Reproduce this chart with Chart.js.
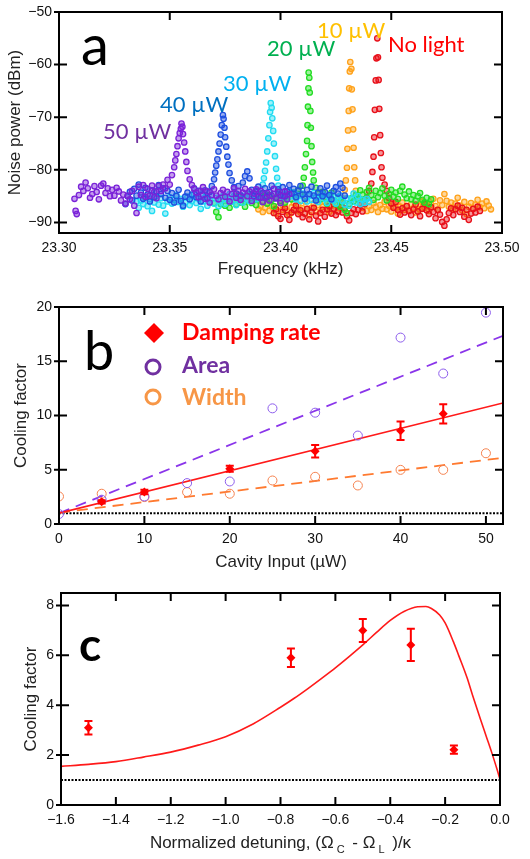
<!DOCTYPE html>
<html>
<head>
<meta charset="utf-8">
<script src="https://cdn.jsdelivr.net/npm/chart.js@4.4.1/dist/chart.umd.min.js"></script>
<style>
  body { margin: 0; background: #fff; width: 530px; height: 859px; position: relative; overflow: hidden; }
  canvas { position: absolute; left: 0; }
</style>
</head>
<body>
<canvas id="chartA" width="530" height="285" style="top:0"></canvas>
<canvas id="chartB" width="530" height="290" style="top:290px"></canvas>
<canvas id="chartC" width="530" height="274" style="top:585px"></canvas>
<script>
// ---- panel a : noise spectra, [frequency kHz, dBm]
const spec50 = [[23.307,-85.5],[23.3075,-87.8],[23.308,-88.4],[23.309,-84.8],[23.310,-83.2],[23.311,-84.0],[23.312,-82.4],[23.313,-83.5],[23.314,-85.3],[23.315,-84.6],[23.316,-83.1],[23.317,-84.2],[23.318,-85.6],[23.319,-83.0],[23.320,-82.6],[23.321,-84.4],[23.322,-83.5],[23.323,-85.0],[23.324,-83.8],[23.325,-84.9],[23.326,-83.4],[23.327,-84.1],[23.328,-85.8],[23.329,-84.7],[23.330,-86.4],[23.331,-84.9],[23.332,-85.6],[23.333,-84.0],[23.334,-86.8],[23.335,-88.2],[23.336,-83.2],[23.337,-84.8],[23.338,-82.9],[23.339,-85.1],[23.340,-83.6],[23.341,-84.9],[23.342,-83.0],[23.343,-84.2],[23.344,-85.4],[23.345,-83.1],[23.346,-84.0],[23.347,-82.8],[23.348,-83.5],[23.349,-81.9],[23.350,-82.8],[23.351,-81.0],[23.352,-79.5],[23.3525,-78.2],[23.353,-77.0],[23.3535,-75.5],[23.354,-74.0],[23.3545,-73.0],[23.355,-72.2],[23.3553,-71.2],[23.3557,-71.8],[23.356,-73.2],[23.3565,-74.8],[23.357,-76.5],[23.3575,-78.5],[23.358,-80.2],[23.359,-81.8],[23.360,-82.9],[23.361,-83.6],[23.362,-84.3],[23.363,-85.2],[23.364,-84.0],[23.365,-83.3],[23.366,-85.5],[23.367,-84.1],[23.368,-86.2],[23.369,-84.8],[23.370,-83.7],[23.371,-84.9],[23.372,-85.6],[23.373,-84.4],[23.374,-83.8],[23.375,-85.1],[23.376,-84.2],[23.377,-86.0],[23.378,-84.6],[23.379,-83.5],[23.380,-85.3],[23.381,-84.0],[23.382,-85.7],[23.383,-84.3],[23.384,-83.6],[23.385,-85.0],[23.386,-84.1],[23.387,-85.9],[23.388,-84.5],[23.389,-83.7],[23.390,-85.2],[23.391,-84.0],[23.392,-86.1],[23.393,-85.3],[23.394,-84.4],[23.395,-85.8],[23.396,-84.9],[23.397,-83.6],[23.398,-85.4],[23.399,-84.2],[23.400,-86.3],[23.401,-85.0],[23.402,-84.1],[23.403,-85.6],[23.404,-84.6]];
const spec40 = [[23.330,-86.5],[23.331,-85.0],[23.332,-84.2],[23.333,-85.8],[23.334,-83.6],[23.335,-84.9],[23.336,-82.8],[23.337,-84.3],[23.338,-85.5],[23.339,-83.4],[23.340,-84.7],[23.341,-86.0],[23.342,-83.9],[23.343,-85.2],[23.344,-84.1],[23.345,-82.9],[23.346,-84.6],[23.347,-83.5],[23.348,-85.3],[23.349,-84.0],[23.350,-85.7],[23.351,-84.4],[23.352,-86.2],[23.353,-85.0],[23.354,-83.8],[23.355,-85.9],[23.356,-86.8],[23.357,-85.1],[23.358,-84.3],[23.359,-85.6],[23.360,-84.7],[23.361,-83.5],[23.362,-85.2],[23.363,-84.0],[23.364,-86.0],[23.365,-84.8],[23.366,-83.9],[23.367,-85.4],[23.368,-84.2],[23.369,-83.1],[23.370,-81.8],[23.3705,-80.5],[23.371,-79.2],[23.3715,-78.0],[23.372,-76.5],[23.3725,-75.0],[23.373,-73.3],[23.3735,-71.5],[23.374,-69.6],[23.3743,-70.3],[23.3747,-72.0],[23.375,-73.8],[23.3755,-75.6],[23.376,-77.5],[23.3765,-79.0],[23.377,-80.6],[23.378,-82.0],[23.379,-83.3],[23.380,-84.5],[23.381,-83.1],[23.382,-84.9],[23.383,-82.4],[23.384,-81.2],[23.385,-80.3],[23.386,-81.6],[23.387,-83.8],[23.388,-85.0],[23.389,-84.1],[23.390,-83.2],[23.391,-85.3],[23.392,-84.4],[23.393,-83.5],[23.394,-85.1],[23.395,-84.2],[23.396,-83.0],[23.397,-84.6],[23.398,-85.4],[23.399,-83.7],[23.400,-84.8],[23.401,-83.3],[23.402,-85.0],[23.403,-84.1],[23.404,-82.9],[23.405,-84.5],[23.406,-83.6],[23.407,-85.2],[23.408,-84.0],[23.409,-83.1],[23.410,-84.7],[23.411,-85.5],[23.412,-83.8],[23.413,-84.6],[23.414,-83.2],[23.415,-84.9],[23.416,-85.8],[23.417,-84.3],[23.418,-83.5],[23.419,-85.0],[23.420,-84.2],[23.421,-83.0],[23.422,-84.8],[23.423,-85.6],[23.424,-84.0],[23.425,-83.3],[23.426,-84.5],[23.427,-82.6],[23.428,-83.4],[23.429,-84.9]];
const spec30 = [[23.335,-86.0],[23.336,-87.2],[23.337,-85.8],[23.338,-86.5],[23.339,-85.3],[23.340,-86.9],[23.341,-85.6],[23.342,-87.8],[23.343,-86.2],[23.344,-85.0],[23.345,-86.6],[23.346,-85.4],[23.347,-86.8],[23.348,-88.3],[23.349,-86.0],[23.350,-85.2],[23.351,-86.4],[23.352,-85.7],[23.353,-84.8],[23.354,-86.1],[23.355,-85.5],[23.356,-87.0],[23.357,-86.2],[23.358,-85.1],[23.359,-86.7],[23.360,-85.9],[23.361,-84.7],[23.362,-86.3],[23.363,-85.5],[23.364,-87.4],[23.365,-86.0],[23.366,-85.2],[23.367,-86.8],[23.368,-85.6],[23.369,-84.9],[23.370,-86.4],[23.371,-85.3],[23.372,-86.9],[23.373,-85.8],[23.374,-85.0],[23.375,-86.5],[23.376,-85.4],[23.377,-84.6],[23.378,-86.0],[23.379,-85.2],[23.380,-86.7],[23.381,-85.5],[23.382,-84.8],[23.383,-86.2],[23.384,-85.3],[23.385,-84.5],[23.386,-85.9],[23.387,-85.1],[23.388,-84.4],[23.389,-85.6],[23.390,-84.9],[23.391,-84.0],[23.392,-82.8],[23.3925,-81.6],[23.393,-80.2],[23.3935,-78.6],[23.394,-76.5],[23.3945,-74.0],[23.395,-71.5],[23.3953,-69.0],[23.3956,-67.3],[23.396,-68.2],[23.3963,-70.2],[23.3967,-72.6],[23.397,-75.0],[23.3975,-77.4],[23.398,-79.8],[23.3985,-81.5],[23.399,-83.0],[23.400,-84.3],[23.401,-85.2],[23.402,-84.6],[23.403,-85.5],[23.404,-84.1],[23.405,-85.0],[23.406,-84.3],[23.407,-85.6],[23.408,-84.8],[23.409,-85.9],[23.410,-84.5],[23.411,-85.3],[23.412,-86.0],[23.413,-84.9],[23.414,-85.7],[23.415,-84.4],[23.416,-85.2],[23.417,-86.1],[23.418,-85.0],[23.419,-84.6],[23.420,-85.5],[23.421,-86.3],[23.422,-85.1],[23.423,-84.7],[23.424,-85.8],[23.425,-86.4],[23.426,-85.2],[23.427,-84.9],[23.428,-85.9],[23.429,-86.6],[23.430,-85.4],[23.431,-86.8],[23.432,-85.6],[23.433,-84.5],[23.434,-86.2],[23.435,-85.0],[23.436,-86.5],[23.437,-85.7],[23.438,-86.3],[23.439,-85.5],[23.440,-86.1]];
const spec20 = [[23.370,-86.3],[23.371,-88.0],[23.372,-89.0],[23.373,-86.5],[23.374,-85.2],[23.375,-86.8],[23.376,-85.5],[23.377,-87.2],[23.378,-86.0],[23.379,-85.1],[23.380,-86.6],[23.381,-84.9],[23.382,-86.2],[23.383,-85.4],[23.384,-87.0],[23.385,-85.8],[23.386,-84.6],[23.387,-86.3],[23.388,-85.1],[23.389,-86.7],[23.390,-85.6],[23.391,-84.5],[23.392,-86.1],[23.393,-85.0],[23.394,-86.4],[23.395,-84.8],[23.396,-85.7],[23.397,-86.9],[23.398,-85.3],[23.399,-84.4],[23.400,-85.9],[23.401,-84.7],[23.402,-86.2],[23.403,-85.0],[23.404,-84.1],[23.405,-85.6],[23.406,-84.3],[23.407,-85.2],[23.408,-83.8],[23.409,-84.6],[23.410,-83.0],[23.4105,-81.5],[23.411,-79.5],[23.4115,-77.0],[23.412,-74.5],[23.4122,-71.5],[23.4124,-68.0],[23.4126,-64.5],[23.4127,-61.5],[23.413,-62.5],[23.4132,-65.3],[23.4135,-68.8],[23.4137,-72.0],[23.414,-75.5],[23.4143,-78.5],[23.4147,-80.5],[23.415,-82.0],[23.416,-83.4],[23.417,-84.5],[23.418,-85.6],[23.419,-84.2],[23.420,-85.3],[23.421,-86.4],[23.422,-85.0],[23.423,-84.3],[23.424,-85.8],[23.425,-86.5],[23.426,-85.2],[23.427,-87.0],[23.428,-86.1],[23.429,-87.6],[23.430,-88.2],[23.431,-86.5],[23.432,-85.4],[23.433,-86.0],[23.434,-84.8],[23.435,-85.5],[23.436,-83.9],[23.437,-84.7],[23.438,-85.6],[23.439,-84.2],[23.440,-83.4],[23.441,-84.8],[23.442,-85.7],[23.443,-84.0],[23.444,-85.2],[23.445,-84.4],[23.446,-83.5],[23.447,-84.9],[23.448,-85.8],[23.449,-84.6],[23.450,-83.8],[23.451,-85.1],[23.452,-84.3],[23.453,-85.5],[23.454,-84.0],[23.455,-83.2],[23.456,-84.7],[23.457,-85.4],[23.458,-84.1],[23.459,-85.6],[23.460,-84.8],[23.461,-85.9],[23.462,-85.0],[23.463,-84.4],[23.464,-85.7],[23.465,-86.2],[23.466,-85.3],[23.467,-86.5],[23.468,-85.6]];
const spec10 = [[23.390,-87.5],[23.391,-86.8],[23.392,-88.0],[23.393,-87.2],[23.394,-86.4],[23.395,-87.8],[23.396,-86.9],[23.397,-87.5],[23.398,-88.3],[23.399,-87.0],[23.400,-86.2],[23.401,-87.6],[23.402,-86.5],[23.403,-87.9],[23.404,-88.5],[23.405,-87.1],[23.406,-86.3],[23.407,-87.7],[23.408,-86.6],[23.409,-88.1],[23.410,-87.3],[23.411,-86.0],[23.412,-87.4],[23.413,-88.6],[23.414,-87.2],[23.415,-86.4],[23.416,-87.9],[23.417,-86.7],[23.418,-88.2],[23.419,-87.0],[23.420,-86.1],[23.421,-87.5],[23.422,-88.0],[23.423,-86.8],[23.424,-87.6],[23.425,-86.5],[23.426,-87.3],[23.427,-86.2],[23.428,-85.4],[23.429,-83.8],[23.4295,-82.0],[23.430,-79.6],[23.4302,-76.0],[23.4305,-72.5],[23.4308,-68.8],[23.431,-64.5],[23.4313,-61.3],[23.4315,-59.5],[23.432,-60.8],[23.4322,-64.7],[23.4325,-68.5],[23.4328,-72.3],[23.433,-75.8],[23.4333,-79.5],[23.4337,-82.0],[23.434,-84.0],[23.435,-85.6],[23.436,-86.4],[23.437,-87.2],[23.438,-86.5],[23.439,-87.8],[23.440,-86.9],[23.441,-87.6],[23.442,-86.3],[23.443,-87.1],[23.444,-88.0],[23.445,-86.7],[23.446,-87.4],[23.447,-86.1],[23.448,-87.5],[23.449,-86.8],[23.450,-87.9],[23.451,-86.4],[23.452,-87.2],[23.453,-88.3],[23.454,-87.0],[23.455,-86.2],[23.456,-87.6],[23.457,-86.9],[23.458,-87.7],[23.459,-86.5],[23.460,-87.3],[23.461,-88.1],[23.462,-86.8],[23.463,-87.5],[23.464,-86.0],[23.465,-87.2],[23.466,-86.4],[23.467,-87.8],[23.468,-86.6],[23.469,-85.5],[23.470,-86.9],[23.471,-87.6],[23.472,-85.8],[23.473,-86.7],[23.474,-84.6],[23.475,-85.9],[23.476,-87.0],[23.477,-86.2],[23.478,-87.5],[23.479,-86.4],[23.480,-85.3],[23.481,-86.8],[23.482,-87.7],[23.483,-86.1],[23.484,-88.4],[23.485,-87.0],[23.486,-86.3],[23.487,-87.4],[23.488,-86.6],[23.489,-85.7],[23.490,-87.1],[23.491,-86.4],[23.492,-87.3],[23.493,-86.0],[23.494,-86.8],[23.495,-87.5]];
const specDark = [[23.397,-88.2],[23.398,-87.5],[23.399,-88.8],[23.400,-89.3],[23.401,-88.0],[23.402,-87.3],[23.403,-88.6],[23.404,-89.5],[23.405,-88.1],[23.406,-87.6],[23.407,-86.8],[23.408,-88.4],[23.409,-87.7],[23.410,-89.0],[23.411,-88.3],[23.412,-87.4],[23.413,-89.4],[23.414,-88.0],[23.415,-87.2],[23.416,-88.7],[23.417,-89.8],[23.418,-88.2],[23.419,-87.6],[23.420,-88.9],[23.421,-87.5],[23.422,-86.9],[23.423,-88.3],[23.424,-87.4],[23.425,-88.6],[23.426,-87.9],[23.427,-86.8],[23.428,-88.1],[23.429,-87.3],[23.430,-88.8],[23.431,-89.6],[23.432,-88.2],[23.433,-87.5],[23.434,-88.4],[23.435,-87.6],[23.436,-86.7],[23.437,-87.9],[23.438,-86.5],[23.439,-85.4],[23.440,-84.0],[23.441,-82.6],[23.4415,-80.4],[23.442,-77.5],[23.4423,-73.8],[23.4426,-68.6],[23.443,-63.0],[23.4433,-58.8],[23.4437,-55.0],[23.444,-58.6],[23.4443,-62.9],[23.4446,-68.4],[23.445,-73.4],[23.4453,-76.8],[23.4456,-79.5],[23.446,-81.5],[23.447,-82.8],[23.448,-84.0],[23.449,-85.3],[23.450,-86.4],[23.451,-87.2],[23.452,-86.1],[23.453,-87.6],[23.454,-88.5],[23.455,-87.3],[23.456,-88.1],[23.457,-86.9],[23.458,-87.8],[23.459,-88.6],[23.460,-87.5],[23.461,-86.6],[23.462,-87.9],[23.463,-88.8],[23.464,-87.4],[23.465,-86.5],[23.466,-87.7],[23.467,-88.4],[23.468,-87.1],[23.469,-88.0],[23.470,-89.2],[23.471,-87.6],[23.472,-88.5],[23.473,-89.9],[23.474,-90.6],[23.475,-89.4],[23.476,-88.2],[23.477,-87.3],[23.478,-88.6],[23.479,-87.5],[23.480,-86.8],[23.481,-88.0],[23.482,-87.2],[23.483,-88.9],[23.484,-87.6],[23.485,-89.5],[23.486,-88.3],[23.487,-87.4],[23.488,-88.1],[23.489,-87.0],[23.490,-87.8]];

// ---- panel b : cooling factor vs cavity input
const inputPower = [0, 5, 10, 15, 20, 25, 30, 35, 40, 45, 50];
const areaFactor = [0.92, 2.24, 2.54, 3.77, 3.92, 10.66, 10.26, 8.15, 17.18, 13.87, 19.48];
const widthFactor = [2.54, 2.79, 2.48, 2.94, 2.79, 4.01, 4.35, 3.55, 4.99, 4.99, 6.52];
const dampPower = [5, 10, 20, 30, 40, 45];
const dampFactor = [2.05, 2.95, 5.1, 6.7, 8.6, 10.15];
const dampErr = [0.15, 0.2, 0.28, 0.57, 0.85, 0.88];
const fitPower = [0, 52];
const dampFit = [1.0, 11.15];
const areaFit = [1.0, 17.35];
const widthFit = [1.05, 6.1];

// ---- panel c : cooling factor vs detuning
const detuning = [-1.5, -0.762, -0.5, -0.325, -0.168];
const coolMeas = [3.1, 5.9, 7.0, 6.42, 2.22];
const coolErr = [0.27, 0.37, 0.46, 0.65, 0.17];
const theoryX = [-1.6,-1.5,-1.4,-1.3,-1.2,-1.1,-1.0,-0.9,-0.8,-0.75,-0.7,-0.65,-0.6,-0.55,-0.5,-0.45,-0.4,-0.35,-0.3,-0.27,-0.25,-0.22,-0.2,-0.17,-0.15,-0.12,-0.1,-0.07,-0.05,-0.03,-0.01,0];
const theoryY = [1.55,1.63,1.74,1.92,2.12,2.40,2.74,3.25,3.92,4.28,4.67,5.08,5.50,5.95,6.42,6.92,7.40,7.76,7.95,7.96,7.88,7.62,7.30,6.55,5.98,5.10,4.40,3.40,2.75,2.10,1.40,1.02];
const unityX = [-1.6, 0];

Chart.defaults.font.family = "'Liberation Sans', Arial, sans-serif";
Chart.defaults.color = '#111';
Chart.defaults.animation = false;

const minus = (v, d) => (v < -1e-9 ? '\u2212' : '') + Math.abs(v).toFixed(d);
const pts = (xs, ys) => xs.map((x, i) => ({x, y: ys[i]}));
const pairs = arr => arr.map(p => ({x: p[0], y: p[1]}));

// box frame with inner ticks on all four sides
const frameTicks = {
  id: 'frameTicks',
  afterDatasetsDraw(chart) {
    const {ctx, chartArea: a, scales: {x, y}} = chart;
    ctx.save();
    ctx.strokeStyle = '#000';
    ctx.lineWidth = 2;
    ctx.strokeRect(a.left, a.top, a.right - a.left, a.bottom - a.top);
    ctx.beginPath();
    x.ticks.forEach(t => {
      const px = x.getPixelForValue(t.value);
      ctx.moveTo(px, a.bottom); ctx.lineTo(px, a.bottom - 8);
      ctx.moveTo(px, a.top); ctx.lineTo(px, a.top + 8);
    });
    y.ticks.forEach(t => {
      const py = y.getPixelForValue(t.value);
      ctx.moveTo(a.left - 5, py); ctx.lineTo(a.left + 8, py);
      ctx.moveTo(a.right, py); ctx.lineTo(a.right - 8, py);
    });
    ctx.stroke();
    ctx.restore();
  }
};

const errorBars = {
  id: 'errorBars',
  afterDatasetsDraw(chart) {
    const {ctx, scales: {x, y}} = chart;
    chart.data.datasets.forEach(ds => {
      if (!ds.errors) return;
      ctx.save();
      ctx.strokeStyle = ds.borderColor;
      ctx.lineWidth = 2;
      ds.data.forEach((p, i) => {
        const px = x.getPixelForValue(p.x);
        const hi = y.getPixelForValue(p.y + ds.errors[i]);
        const lo = y.getPixelForValue(p.y - ds.errors[i]);
        ctx.beginPath();
        ctx.moveTo(px, hi); ctx.lineTo(px, lo);
        ctx.moveTo(px - 4, hi); ctx.lineTo(px + 4, hi);
        ctx.moveTo(px - 4, lo); ctx.lineTo(px + 4, lo);
        ctx.stroke();
      });
      ctx.restore();
    });
  }
};

function notes(items, extra) {
  return {
    id: 'notes',
    afterDraw(chart) {
      const ctx = chart.ctx;
      items.forEach(n => {
        ctx.save();
        ctx.font = n.font;
        ctx.fillStyle = n.color;
        ctx.textAlign = 'left';
        ctx.textBaseline = 'alphabetic';
        ctx.fillText(n.text, n.x, n.y);
        ctx.restore();
      });
      if (extra) extra(chart.ctx, chart);
    }
  };
}

function axis(opts) {
  const isX = opts.pos === 'x';
  return {
    type: 'linear',
    min: opts.min, max: opts.max,
    afterFit: s => {
      if (isX) { s.height = opts.size; s.paddingLeft = 0; s.paddingRight = 0; }
      else { s.width = opts.size; s.paddingTop = 0; s.paddingBottom = 0; }
    },
    ticks: {
      stepSize: opts.step, includeBounds: false, padding: 7, maxRotation: 0, autoSkip: false,
      font: {size: 14}, color: '#111', callback: opts.fmt
    },
    grid: {display: false, drawTicks: false},
    border: {display: false},
    title: {
      display: !!opts.title, text: opts.title, color: '#222',
      font: {size: 17}, padding: isX ? {top: 0, bottom: opts.tpad} : {top: opts.tpad, bottom: 0}
    }
  };
}

const spectra = [
  {label: '50 µW', data: spec50, color: '#7a22d8'},
  {label: '40 µW', data: spec40, color: '#1f4fe0'},
  {label: '30 µW', data: spec30, color: '#22dcf2'},
  {label: '20 µW', data: spec20, color: '#22dd22'},
  {label: 'No light', data: specDark, color: '#e8101a'},
  {label: '10 µW', data: spec10, color: '#ffa21a'}
];

new Chart(document.getElementById('chartA'), {
  type: 'scatter',
  data: {
    datasets: spectra.map(s => ({
      label: s.label, data: pairs(s.data),
      borderColor: s.color, backgroundColor: s.color + '70',
      pointRadius: 2.7, borderWidth: 1.3
    }))
  },
  options: {
    responsive: false,
    layout: {padding: {top: 12, right: 28, bottom: 0, left: 0}},
    plugins: {legend: {display: false}, tooltip: {enabled: false}},
    scales: {
      x: axis({pos: 'x', min: 23.3, max: 23.5, step: 0.05, size: 52, fmt: v => v.toFixed(2), title: 'Frequency (kHz)', tpad: 5}),
      y: axis({pos: 'y', min: -92, max: -50, step: 10, size: 59, fmt: v => minus(v, 0), title: 'Noise power (dBm)', tpad: 5})
    }
  },
  plugins: [frameTicks, notes([
    {text: 'a', x: 81, y: 65, font: '56px Lato', color: '#000'},
    {text: '50 µW', x: 103, y: 139, font: '22px Lato', color: '#7030a0'},
    {text: '40 µW', x: 160, y: 112, font: '22px Lato', color: '#0070c0'},
    {text: '30 µW', x: 223, y: 91, font: '22px Lato', color: '#00b0f0'},
    {text: '20 µW', x: 267, y: 56, font: '22px Lato', color: '#00b050'},
    {text: '10 µW', x: 317, y: 38, font: '22px Lato', color: '#ffc000'},
    {text: 'No light', x: 388, y: 52, font: '22px Lato', color: '#ff0000'}
  ])]
});

function bLegend(ctx) {
  ctx.save();
  ctx.fillStyle = '#ff0000';
  ctx.beginPath();
  ctx.moveTo(154, 33); ctx.lineTo(164, 43); ctx.lineTo(154, 53); ctx.lineTo(144, 43);
  ctx.closePath(); ctx.fill();
  ctx.lineWidth = 3;
  ctx.strokeStyle = '#7030a0';
  ctx.beginPath(); ctx.arc(153, 77, 7, 0, Math.PI * 2); ctx.stroke();
  ctx.strokeStyle = '#f79646';
  ctx.beginPath(); ctx.arc(153, 107, 7, 0, Math.PI * 2); ctx.stroke();
  ctx.restore();
}

new Chart(document.getElementById('chartB'), {
  type: 'scatter',
  data: {
    datasets: [
      {label: 'Damping rate', data: pts(dampPower, dampFactor), errors: dampErr, pointStyle: 'rectRot',
        pointRadius: 4.5, borderColor: '#ff0000', backgroundColor: '#ff0000', borderWidth: 0},
      {label: 'Area', data: pts(inputPower, areaFactor), pointRadius: 4.5, borderWidth: 1,
        borderColor: '#8c5cec', backgroundColor: 'rgba(0,0,0,0)'},
      {label: 'Width', data: pts(inputPower, widthFactor), pointRadius: 4.5, borderWidth: 1,
        borderColor: '#f5824f', backgroundColor: 'rgba(0,0,0,0)'},
      {data: pts(fitPower, dampFit), showLine: true, pointRadius: 0, borderColor: '#ff1a1a', borderWidth: 1.6},
      {data: pts(fitPower, areaFit), showLine: true, pointRadius: 0, borderColor: '#8a35ea', borderWidth: 1.8, borderDash: [11, 7]},
      {data: pts(fitPower, widthFit), showLine: true, pointRadius: 0, borderColor: '#ff7a30', borderWidth: 1.8, borderDash: [11, 7]},
      {data: pts(fitPower, [1, 1]), showLine: true, pointRadius: 0, borderColor: '#000', borderWidth: 2, borderDash: [2, 1.5]}
    ]
  },
  options: {
    responsive: false,
    layout: {padding: {top: 17, right: 27, bottom: 0, left: 0}},
    plugins: {legend: {display: false}, tooltip: {enabled: false}},
    scales: {
      x: axis({pos: 'x', min: 0, max: 52, step: 10, size: 56, fmt: v => String(v), title: 'Cavity Input (µW)', tpad: 7}),
      y: axis({pos: 'y', min: 0, max: 20, step: 5, size: 59, fmt: v => String(v), title: 'Cooling factor', tpad: 11})
    }
  },
  plugins: [frameTicks, errorBars, notes([
    {text: 'b', x: 84, y: 80, font: '54px Lato', color: '#000'},
    {text: 'Damping rate', x: 182, y: 50, font: 'bold 23px Lato', color: '#ff0000'},
    {text: 'Area', x: 182, y: 83, font: 'bold 23px Lato', color: '#7030a0'},
    {text: 'Width', x: 182, y: 115, font: 'bold 23px Lato', color: '#f79646'}
  ], bLegend)]
});

function cTitle(ctx, chart) {
  const a = chart.chartArea;
  const parts = [
    {t: 'Normalized detuning, (\u03A9', sub: false},
    {t: 'C', sub: true},
    {t: ' - \u03A9', sub: false},
    {t: 'L', sub: true},
    {t: ' )/\u03BA', sub: false}
  ];
  const big = "17px 'Liberation Sans'", small = "11px 'Liberation Sans'";
  ctx.save();
  let total = 0;
  parts.forEach(p => { ctx.font = p.sub ? small : big; p.w = ctx.measureText(p.t).width + (p.sub ? 6 : 0); total += p.w; });
  let x = (a.left + a.right) / 2 - total / 2;
  ctx.fillStyle = '#222';
  ctx.textBaseline = 'alphabetic';
  parts.forEach(p => {
    ctx.font = p.sub ? small : big;
    ctx.fillText(p.t, x + (p.sub ? 3 : 0), p.sub ? 268 : 263);
    x += p.w;
  });
  ctx.restore();
}

new Chart(document.getElementById('chartC'), {
  type: 'scatter',
  data: {
    datasets: [
      {label: 'Measured', data: pts(detuning, coolMeas), errors: coolErr, pointStyle: 'rectRot',
        pointRadius: 4.5, borderColor: '#ff0000', backgroundColor: '#ff0000', borderWidth: 0},
      {data: pts(theoryX, theoryY), showLine: true, pointRadius: 0, borderColor: '#ff1a1a', borderWidth: 1.6,
        cubicInterpolationMode: 'monotone'},
      {data: pts(unityX, [1, 1]), showLine: true, pointRadius: 0, borderColor: '#000', borderWidth: 2, borderDash: [2, 1.5]}
    ]
  },
  options: {
    responsive: false,
    layout: {padding: {top: 8, right: 30, bottom: 0, left: 0}},
    plugins: {legend: {display: false}, tooltip: {enabled: false}},
    scales: {
      x: axis({pos: 'x', min: -1.6, max: 0, step: 0.2, size: 54, fmt: v => minus(v, 1)}),
      y: axis({pos: 'y', min: 0, max: 8.5, step: 2, size: 61, fmt: v => String(v), title: 'Cooling factor', tpad: 21})
    }
  },
  plugins: [frameTicks, errorBars, notes([
    {text: 'c', x: 79, y: 76, font: 'bold 46px Lato', color: '#000'}
  ], cTitle)]
});
</script>
</body>
</html>
